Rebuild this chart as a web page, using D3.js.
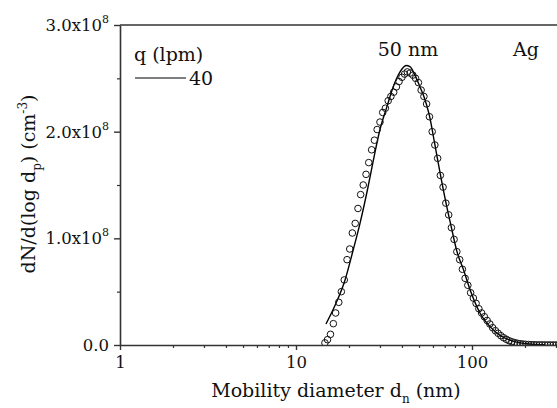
<!DOCTYPE html>
<html>
<head>
<meta charset="utf-8">
<script src="https://cdn.jsdelivr.net/npm/d3@7"></script>
<style>
  body { margin: 0; background: #fff; }
  svg { display: block; font-family: "DejaVu Serif", serif; }
</style>
</head>
<body>
<svg width="557" height="408"></svg>
<script>
// Measured data: SMPS channel diameters (nm) and dN/dlogDp (x1e8 cm^-3)
const measDiam = [14.6, 15.1, 15.7, 16.3, 16.8, 17.5, 18.1, 18.8, 19.5, 20.2, 20.9, 21.7, 22.5, 23.3, 24.1,
  25.0, 25.9, 26.9, 27.9, 28.9, 30.0, 31.1, 32.2, 33.4, 34.6, 35.9, 37.2, 38.5, 40.0, 41.4, 42.9, 44.5, 46.1,
  47.8, 49.6, 51.4, 53.3, 55.2, 57.3, 59.4, 61.5, 63.8, 66.1, 68.5, 71.0, 73.7, 76.4, 79.1, 82.0, 85.1, 88.2,
  91.4, 94.7, 98.2, 101.8, 105.5, 109.4, 113.4, 117.6, 121.9, 126.3, 131.0, 135.8, 140.7, 145.9, 151.2, 156.8,
  162.5, 168.5, 174.7, 181.1, 187.7, 194.6, 201.7, 209.1, 216.7, 224.7, 232.9, 241.4, 250.3, 259.5, 269.0,
  278.8, 289.0, 299.6, 310.6];
const measConc = [0.02, 0.05, 0.10, 0.20, 0.30, 0.40, 0.50, 0.61, 0.80, 0.90, 1.05, 1.14, 1.28, 1.41, 1.50,
  1.60, 1.71, 1.83, 1.92, 2.02, 2.09, 2.18, 2.22, 2.29, 2.33, 2.37, 2.42, 2.47, 2.51, 2.54, 2.56, 2.55, 2.53,
  2.50, 2.46, 2.39, 2.33, 2.26, 2.14, 2.00, 1.875, 1.75, 1.59, 1.48, 1.33, 1.22, 1.10, 0.99, 0.875, 0.80, 0.71,
  0.625, 0.56, 0.49, 0.44, 0.39, 0.34, 0.30, 0.265, 0.23, 0.197, 0.162, 0.134, 0.11, 0.087, 0.068, 0.053,
  0.040, 0.030, 0.022, 0.016, 0.012, 0.009, 0.006, 0.004, 0.003, 0.002, 0.0015, 0.001, 0.001, 0.0005, 0.0005,
  0.0003, 0.0002, 0.0001, 0.0001];

// Fitted curve, q = 40 lpm
const fitDiam = [14.8, 16.7, 19.0, 21.2, 23.1, 25.5, 27.5, 30.0, 32.8, 35.7, 39.0, 42.2, 44.4, 47.4, 50.6,
  53.3, 57.3, 61.5, 66.1, 71.0, 76.4, 82.0, 89.7, 97.4, 111.0, 126.6, 144.2, 164.4, 187.4, 204.6, 230, 260];
const fitConc = [0.197, 0.375, 0.61, 0.90, 1.14, 1.46, 1.73, 2.02, 2.23, 2.42, 2.56, 2.62, 2.61, 2.53, 2.42,
  2.33, 2.15, 1.88, 1.60, 1.34, 1.10, 0.88, 0.70, 0.52, 0.30, 0.172, 0.09, 0.045, 0.02, 0.012, 0.005, 0.002];

const yTicks = [0, 1, 2, 3];
const xTicks = [1, 10, 100];

const svg = d3.select("svg");
const plotLeft = 120, plotRight = 557, plotTop = 25, plotBottom = 345;

const x = d3.scaleLog().domain([1, Math.pow(10, (plotRight - plotLeft) / 176)]).range([plotLeft, plotRight]);
const y = d3.scaleLinear().domain([0, 3]).range([plotBottom, plotTop]);

const axisColor = "#333";
const tickFont = 16.5, titleFont = 19;

// Plot area clip
svg.append("clipPath").attr("id", "clip")
  .append("rect").attr("x", plotLeft).attr("y", plotTop - 5)
  .attr("width", plotRight - plotLeft).attr("height", plotBottom - plotTop + 5);

// Curve
const line = d3.line().x((d, i) => x(fitDiam[i])).y(d => y(d)).curve(d3.curveMonotoneX);
svg.append("path")
  .datum(fitConc)
  .attr("clip-path", "url(#clip)")
  .attr("d", line)
  .attr("fill", "none")
  .attr("stroke", "#000")
  .attr("stroke-width", 1.4);

// Circles
svg.append("g").attr("clip-path", "url(#clip)")
  .selectAll("circle")
  .data(measConc)
  .join("circle")
  .attr("cx", (d, i) => x(measDiam[i]))
  .attr("cy", d => y(d))
  .attr("r", 3.3)
  .attr("fill", "none")
  .attr("stroke", "#111")
  .attr("stroke-width", 1);

// X axis with major and minor ticks
const minorX = [];
[1, 10, 100].forEach(dec => { for (let k = 2; k <= 9; k++) if (dec * k <= x.domain()[1]) minorX.push(dec * k); });
svg.append("g")
  .attr("transform", `translate(0,${plotBottom})`)
  .call(d3.axisBottom(x).tickValues(minorX).tickSize(3).tickFormat(""))
  .call(g => g.select(".domain").remove())
  .call(g => g.selectAll("line").attr("stroke", axisColor).attr("stroke-width", 1.2));
const xAxis = svg.append("g")
  .attr("transform", `translate(0,${plotBottom})`)
  .call(d3.axisBottom(x).tickValues(xTicks).tickSize(5).tickSizeOuter(0).tickFormat(d3.format("d")).tickPadding(6));
xAxis.select(".domain").attr("stroke", axisColor).attr("stroke-width", 1.6);
xAxis.selectAll("line").attr("stroke", axisColor).attr("stroke-width", 1.4);
xAxis.selectAll("text").attr("font-size", tickFont).attr("font-family", "DejaVu Serif").attr("fill", "#111");

// Y axis
svg.append("g")
  .attr("transform", `translate(${plotLeft},0)`)
  .call(d3.axisLeft(y).tickValues([0.5, 1.5, 2.5]).tickSize(3).tickFormat(""))
  .call(g => g.select(".domain").remove())
  .call(g => g.selectAll("line").attr("stroke", axisColor).attr("stroke-width", 1.2));
const yAxis = svg.append("g")
  .attr("transform", `translate(${plotLeft},0)`)
  .call(d3.axisLeft(y).tickValues(yTicks).tickSize(6).tickSizeOuter(0).tickFormat(""));
yAxis.select(".domain").attr("stroke", axisColor).attr("stroke-width", 1.6);
yAxis.selectAll("line").attr("stroke", axisColor).attr("stroke-width", 1.4);

yTicks.forEach(t => {
  const tx = svg.append("text")
    .attr("x", plotLeft - 11)
    .attr("y", y(t) + 6)
    .attr("text-anchor", "end")
    .attr("font-size", tickFont)
    .attr("fill", "#111");
  if (t === 0) {
    tx.text("0.0");
  } else {
    tx.append("tspan").text(t.toFixed(1) + "x10");
    tx.append("tspan").attr("dy", -8).attr("font-size", 11).text("8");
  }
});

// Top frame line
svg.append("line")
  .attr("x1", plotLeft).attr("x2", plotRight)
  .attr("y1", plotTop).attr("y2", plotTop)
  .attr("stroke", axisColor).attr("stroke-width", 1.6);

// Axis titles
const xt = svg.append("text")
  .attr("x", 336).attr("y", 397)
  .attr("text-anchor", "middle")
  .attr("font-size", titleFont)
  .attr("fill", "#111");
xt.append("tspan").text("Mobility diameter d");
xt.append("tspan").attr("dy", 6).attr("font-size", 12).text("n");
xt.append("tspan").attr("dy", -6).text(" (nm)");

const yt = svg.append("text")
  .attr("transform", `translate(35,184) rotate(-90)`)
  .attr("text-anchor", "middle")
  .attr("font-size", titleFont)
  .attr("fill", "#111");
yt.append("tspan").text("dN/d(log d");
yt.append("tspan").attr("dy", 6).attr("font-size", 12).text("p");
yt.append("tspan").attr("dy", -6).text(") (cm");
yt.append("tspan").attr("dy", -8).attr("font-size", 12).text("-3");
yt.append("tspan").attr("dy", 8).text(")");

// Legend
svg.append("text").attr("x", 134).attr("y", 61).attr("font-size", titleFont).attr("fill", "#111").text("q (lpm)");
svg.append("line").attr("x1", 135).attr("x2", 186).attr("y1", 78).attr("y2", 78)
  .attr("stroke", "#000").attr("stroke-width", 1.2);
svg.append("text").attr("x", 189).attr("y", 85).attr("font-size", titleFont).attr("fill", "#111").text("40");

// Annotations
svg.append("text").attr("x", 408).attr("y", 56).attr("text-anchor", "middle")
  .attr("font-size", titleFont).attr("fill", "#111").text("50 nm");
svg.append("text").attr("x", 513).attr("y", 56)
  .attr("font-size", titleFont).attr("fill", "#111").text("Ag");
</script>
</body>
</html>
